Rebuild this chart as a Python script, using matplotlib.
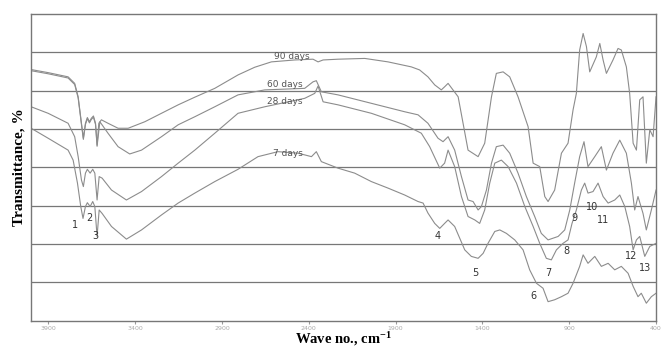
import matplotlib.pyplot as plt
import numpy as np

# FTIR spectra, wavenumber (cm-1) vs transmittance (%)
w_90 = [4000, 3902, 3787, 3749, 3729, 3710, 3699, 3687, 3676, 3664, 3653, 3641, 3629, 3620, 3610,
        3595, 3557, 3499, 3441, 3345, 3249, 3153, 3057, 2942, 2808, 2712, 2616, 2481, 2376, 2347,
        2318, 2232, 2078, 1944, 1810, 1762, 1714, 1675, 1637, 1618, 1598, 1540, 1483, 1425, 1387,
        1348, 1320, 1281, 1243, 1195, 1137, 1108, 1070, 1041, 1022, 984, 945, 907, 878, 859,
        840, 820, 801, 782, 744, 724, 705, 686, 648, 619, 600, 571, 552, 532, 513,
        494, 475, 456, 436, 417, 400]
t_90 = [65.5, 64.7, 63.6, 61.9, 58.4, 51.5, 47.6, 51.5, 53.0, 51.9, 52.8, 53.4, 51.5, 45.8, 51.5,
        52.4, 51.5, 50.2, 50.2, 51.9, 54.1, 56.3, 58.3, 60.6, 64.1, 66.1, 67.5, 68.0, 68.2, 67.5,
        68.0, 68.2, 68.4, 67.5, 66.2, 65.4, 63.6, 61.5, 60.2, 61.0, 61.9, 58.4, 44.5, 42.8, 46.3,
        58.4, 64.5, 64.9, 63.6, 58.4, 50.6, 41.1, 40.2, 32.4, 31.1, 34.1, 43.7, 46.3, 55.0, 59.3,
        70.6, 74.9, 71.5, 64.9, 68.8, 72.3, 68.0, 64.5, 68.0, 71.0, 70.6, 66.2, 59.3, 46.3, 44.5,
        57.6, 58.4, 41.1, 49.8, 48.0, 58.4]

w_60 = [4000, 3902, 3787, 3749, 3729, 3710, 3699, 3687, 3676, 3664, 3653, 3641, 3629, 3620, 3604,
        3557, 3499, 3432, 3364, 3249, 3153, 3057, 2942, 2808, 2654, 2424, 2376, 2357, 2328, 2232,
        2040, 1848, 1771, 1714, 1656, 1627, 1598, 1560, 1521, 1483, 1454, 1425, 1406, 1377, 1348,
        1320, 1281, 1243, 1195, 1147, 1099, 1061, 1022, 964, 926, 897, 869, 840, 815, 792,
        753, 715, 686, 648, 609, 571, 542, 523, 504, 475, 456, 427, 400]
t_60 = [65.2, 64.4, 63.3, 61.6, 58.1, 51.2, 47.3, 51.2, 52.7, 51.6, 52.5, 53.1, 51.2, 45.5, 51.9,
        48.9, 45.4, 43.5, 44.5, 48.0, 51.1, 53.2, 55.8, 58.9, 60.2, 60.6, 62.3, 62.6, 59.7, 58.9,
        56.7, 54.5, 53.7, 51.5, 47.6, 46.7, 48.0, 44.5, 37.6, 31.5, 31.1, 28.9, 29.8, 34.1, 41.1,
        45.4, 45.8, 43.7, 38.5, 32.4, 27.2, 22.8, 21.1, 22.0, 23.7, 28.9, 35.9, 42.8, 46.7, 40.2,
        42.8, 45.4, 39.3, 43.7, 47.1, 43.7, 35.9, 28.9, 32.4, 28.0, 23.7, 28.9, 34.1]

w_28 = [4000, 3902, 3787, 3749, 3729, 3710, 3699, 3687, 3676, 3660, 3645, 3633, 3620, 3608, 3591,
        3537, 3451, 3364, 3249, 3153, 3057, 2942, 2808, 2654, 2424, 2366, 2347, 2318, 2232, 2040,
        1848, 1752, 1704, 1646, 1618, 1598, 1560, 1521, 1483, 1444, 1416, 1387, 1358, 1329, 1291,
        1252, 1204, 1156, 1108, 1070, 1032, 1003, 974, 936, 907, 884, 859, 830, 811, 792,
        763, 734, 705, 676, 638, 609, 580, 552, 532, 513, 494, 465, 436, 400]
t_28 = [55.8, 54.1, 51.5, 48.0, 42.8, 36.7, 35.0, 38.5, 39.5, 38.5, 39.5, 38.5, 31.5, 37.6, 37.2,
        34.1, 31.5, 33.7, 37.6, 41.1, 44.5, 48.9, 54.1, 55.8, 58.0, 59.3, 61.2, 57.1, 56.3, 54.1,
        51.1, 48.9, 45.4, 39.8, 41.1, 44.5, 40.2, 32.4, 27.2, 26.3, 25.4, 28.9, 35.9, 41.1, 41.9,
        40.2, 35.9, 29.8, 24.6, 20.2, 16.3, 15.9, 18.5, 20.2, 21.1, 25.4, 28.9, 34.1, 35.9, 33.3,
        33.7, 35.9, 32.4, 30.7, 31.5, 32.8, 29.8, 24.6, 18.5, 21.1, 22.0, 16.8, 19.4, 20.2]

w_7 = [4000, 3902, 3787, 3758, 3733, 3714, 3701, 3687, 3676, 3660, 3645, 3633, 3620, 3608, 3591,
       3537, 3451, 3364, 3249, 3153, 3057, 2942, 2808, 2693, 2578, 2462, 2385, 2357, 2328, 2232,
       2136, 2040, 1944, 1848, 1771, 1742, 1714, 1675, 1646, 1618, 1598, 1560, 1502, 1464, 1425,
       1396, 1368, 1329, 1300, 1262, 1214, 1166, 1128, 1089, 1051, 1022, 984, 945, 907, 878,
       840, 820, 792, 753, 715, 676, 638, 600, 561, 532, 504, 485, 456, 427, 400]
t_7 = [50.2, 47.6, 44.5, 41.9, 35.9, 29.8, 26.7, 29.8, 30.8, 29.8, 31.1, 29.8, 22.0, 28.9, 28.0,
       24.6, 21.3, 23.7, 27.6, 30.7, 33.3, 36.3, 39.5, 42.8, 44.1, 43.7, 42.8, 44.1, 41.5, 39.8,
       38.5, 36.3, 34.6, 32.8, 31.1, 30.7, 28.1, 25.4, 24.1, 25.4, 26.3, 24.6, 18.5, 16.8, 16.3,
       17.6, 20.2, 23.3, 23.7, 22.8, 21.1, 18.5, 13.3, 9.8, 8.5, 5.0, 5.5, 6.3, 7.2, 9.8,
       14.2, 17.2, 15.0, 16.8, 14.2, 15.0, 13.3, 14.2, 12.4, 9.0, 6.3, 7.2, 4.6, 6.3, 7.2]

series_names = ["90 days", "60 days", "28 days", "7 days"]
name_w = [2500, 2539, 2539, 2520]
name_t = [69.0, 61.5, 57.1, 43.5]

peak_labels = ["1", "2", "3", "4", "5", "6", "7", "8", "9", "10", "11", "12", "13"]
peak_w = [3748, 3666, 3627, 1660, 1444, 1108, 1022, 916, 868, 769, 705, 542, 465]
peak_t = [25.0, 26.7, 22.1, 22.1, 12.4, 6.5, 12.4, 18.3, 26.7, 29.8, 26.3, 16.8, 13.7]

tick_vals = [3900, 3400, 2900, 2400, 1900, 1400, 900, 400]

plt.rcParams['mathtext.default'] = 'regular'

fig = plt.figure(figsize=(6.62, 3.48), dpi=100)
ax = fig.add_axes([0.047, 0.078, 0.944, 0.882])

for w, t in [(w_90, t_90), (w_60, t_60), (w_28, t_28), (w_7, t_7)]:
    ax.plot(w, t, color='#8c8c8c', lw=0.8)

for i in range(len(series_names)):
    ax.text(name_w[i], name_t[i], series_names[i], fontsize=6.5, color='#555555',
            ha='center', va='center')

for i in range(len(peak_labels)):
    ax.text(peak_w[i], peak_t[i], peak_labels[i], fontsize=7, color='#333333',
            ha='center', va='center')

ax.set_xlim(4000, 400)
ax.set_ylim(0, 80)
ax.set_yticks(np.arange(10, 80, 10))
ax.tick_params(axis='y', length=0, labelleft=False)
ax.set_xticks(tick_vals)
ax.set_xticklabels([str(v) for v in tick_vals], fontsize=4.5, color='#aaaaaa')
ax.tick_params(axis='x', length=2, color='#999999', pad=2)
ax.grid(axis='y', color='#777777', lw=0.9)
for s in ax.spines.values():
    s.set_color('#777777')
    s.set_linewidth(1.0)

ax.set_ylabel('Transmittance, %', family='Liberation Serif', fontweight='bold', fontsize=11,
              labelpad=4)
ax.set_xlabel(r'Wave no., cm$^{-1}$', family='Liberation Serif', fontweight='bold', fontsize=10.5,
              labelpad=-1)

plt.savefig('out.png', dpi=100)
